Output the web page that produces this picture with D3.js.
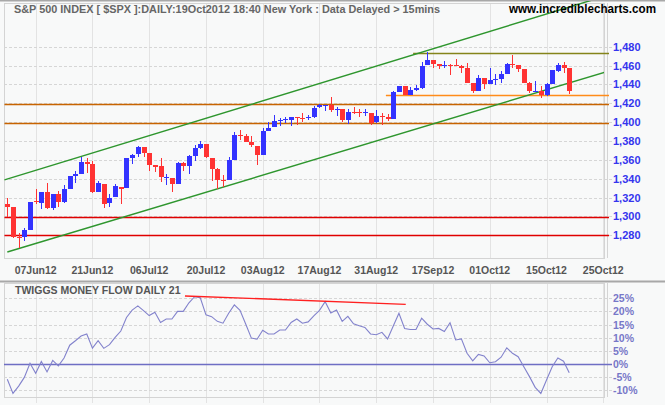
<!DOCTYPE html>
<html><head><meta charset="utf-8">
<script src="https://cdn.jsdelivr.net/npm/d3@7"></script>
<style>html,body{margin:0;padding:0;background:#f8f9f9;} svg{display:block;font-family:"Liberation Sans",Arial,sans-serif;}</style>
</head><body><svg id="c" width="665" height="405"></svg>
<script>
// ---------- DATA ----------
const dates = ["2012-05-31","2012-06-01","2012-06-04","2012-06-05","2012-06-06","2012-06-07","2012-06-08","2012-06-11","2012-06-12","2012-06-13",
"2012-06-14","2012-06-15","2012-06-18","2012-06-19","2012-06-20","2012-06-21","2012-06-22","2012-06-25","2012-06-26","2012-06-27",
"2012-06-28","2012-06-29","2012-07-02","2012-07-03","2012-07-05","2012-07-06","2012-07-09","2012-07-10","2012-07-11","2012-07-12",
"2012-07-13","2012-07-16","2012-07-17","2012-07-18","2012-07-19","2012-07-20","2012-07-23","2012-07-24","2012-07-25","2012-07-26",
"2012-07-27","2012-07-30","2012-07-31","2012-08-01","2012-08-02","2012-08-03","2012-08-06","2012-08-07","2012-08-08","2012-08-09",
"2012-08-10","2012-08-13","2012-08-14","2012-08-15","2012-08-16","2012-08-17","2012-08-20","2012-08-21","2012-08-22","2012-08-23",
"2012-08-24","2012-08-27","2012-08-28","2012-08-29","2012-08-30","2012-08-31","2012-09-04","2012-09-05","2012-09-06","2012-09-07",
"2012-09-10","2012-09-11","2012-09-12","2012-09-13","2012-09-14","2012-09-17","2012-09-18","2012-09-19","2012-09-20","2012-09-21",
"2012-09-24","2012-09-25","2012-09-26","2012-09-27","2012-09-28","2012-10-01","2012-10-02","2012-10-03","2012-10-04","2012-10-05",
"2012-10-08","2012-10-09","2012-10-10","2012-10-11","2012-10-12","2012-10-15","2012-10-16","2012-10-17","2012-10-18","2012-10-19"];

const open = [1313.09,1309.87,1278.29,1277.82,1285.61,1316.15,1314.61,1325.72,1309.40,1324.02,
1314.88,1329.19,1342.42,1344.83,1358.04,1355.43,1325.92,1334.90,1314.09,1320.71,
1331.52,1330.12,1362.33,1365.75,1373.72,1367.09,1354.66,1352.96,1341.40,1341.29,
1334.81,1356.50,1353.68,1363.58,1373.01,1376.51,1362.34,1350.52,1338.35,1338.17,
1360.05,1385.94,1385.27,1379.32,1375.13,1365.45,1391.04,1394.46,1401.23,1402.26,
1402.58,1405.87,1404.36,1403.89,1405.57,1415.84,1417.85,1418.13,1413.09,1413.49,
1401.99,1411.13,1410.44,1409.32,1410.08,1400.07,1406.54,1404.94,1403.74,1432.12,
1437.92,1429.13,1433.56,1436.56,1460.07,1465.42,1461.19,1459.50,1461.05,1460.34,
1459.76,1456.94,1441.60,1433.36,1447.13,1440.90,1444.99,1446.05,1451.08,1461.40,
1460.93,1455.90,1441.48,1432.82,1432.84,1428.75,1440.31,1454.22,1460.94,1457.34];

const high = [1319.74,1309.87,1282.55,1287.62,1315.13,1329.05,1325.81,1335.52,1324.31,1327.28,
1333.68,1343.32,1348.22,1363.46,1361.57,1358.27,1337.82,1334.90,1324.24,1334.40,
1331.52,1362.17,1366.35,1374.81,1373.85,1367.09,1354.87,1361.54,1345.00,1341.29,
1357.70,1357.26,1365.36,1375.26,1380.39,1376.51,1362.34,1351.53,1343.98,1363.13,
1389.19,1391.74,1387.16,1385.03,1375.13,1394.16,1399.63,1407.14,1404.14,1405.95,
1405.98,1405.87,1410.03,1407.73,1417.44,1418.71,1418.13,1426.68,1416.12,1413.49,
1413.46,1416.17,1413.63,1413.95,1410.08,1413.09,1409.31,1408.81,1432.81,1437.92,
1438.74,1437.76,1439.15,1463.76,1474.51,1465.63,1461.47,1465.15,1461.23,1467.07,
1460.72,1463.24,1441.60,1450.20,1447.13,1457.14,1451.52,1454.30,1463.14,1470.96,
1460.93,1455.90,1442.52,1443.90,1438.43,1441.31,1455.51,1462.20,1464.02,1457.34];

const low = [1298.90,1277.25,1266.74,1274.16,1285.61,1312.68,1307.77,1307.73,1306.62,1310.51,
1314.14,1329.19,1335.87,1344.83,1346.45,1324.41,1325.92,1309.27,1310.30,1320.71,
1313.29,1330.12,1355.70,1363.53,1363.02,1348.03,1346.65,1336.27,1333.25,1325.41,
1334.81,1348.51,1345.07,1358.96,1371.21,1362.19,1337.56,1329.24,1331.50,1338.17,
1360.05,1381.37,1379.17,1373.35,1354.65,1365.45,1391.04,1394.46,1396.13,1398.80,
1395.62,1397.32,1400.60,1401.83,1404.15,1414.67,1412.12,1410.86,1406.78,1400.50,
1398.04,1409.11,1405.59,1406.57,1397.01,1398.96,1396.56,1401.25,1403.74,1431.45,
1428.98,1429.13,1432.99,1435.34,1460.07,1457.55,1456.13,1457.88,1449.98,1459.51,
1452.06,1441.59,1430.53,1433.36,1435.60,1440.90,1439.01,1441.99,1451.08,1456.89,
1453.10,1441.18,1430.64,1432.82,1425.53,1427.24,1440.31,1453.35,1452.63,1429.85];

const close = [1310.33,1278.04,1278.18,1285.50,1315.13,1314.99,1325.66,1308.93,1324.18,1314.88,
1329.10,1342.84,1344.78,1357.98,1355.69,1325.51,1335.02,1313.72,1319.99,1331.85,
1329.04,1362.16,1365.51,1374.02,1367.58,1354.68,1352.46,1341.47,1341.45,1334.76,
1356.78,1353.64,1363.67,1372.78,1376.51,1362.66,1350.52,1338.31,1337.89,1360.02,
1385.97,1385.30,1379.32,1375.32,1365.00,1390.99,1394.23,1401.35,1402.22,1402.80,
1405.87,1404.11,1403.93,1405.53,1415.51,1418.16,1418.13,1413.17,1413.49,1402.08,
1411.13,1410.44,1409.30,1410.49,1399.48,1406.58,1404.94,1403.44,1432.12,1437.92,
1429.08,1433.56,1436.56,1459.99,1465.77,1461.19,1459.32,1461.05,1460.26,1460.15,
1456.89,1441.59,1433.32,1447.15,1440.67,1444.49,1445.75,1450.99,1461.40,1460.93,
1455.88,1441.48,1432.56,1432.84,1428.59,1440.13,1454.92,1460.91,1457.34,1433.19];

const moneyFlow = [-5.9,-11.3,-8.5,-5.2,0.2,-3.6,0.9,-3.1,1.3,-0.8,
2.2,7.1,8.8,10.6,11.4,6.0,8.8,5.9,7.3,10.1,
12.5,17.7,20.5,22.1,20.3,18.4,19.7,15.8,17.1,17.1,
20.0,20.0,23.3,25.6,25.2,18.7,18.0,16.2,15.5,19.3,
22.5,20.4,15.2,9.8,9.4,12.8,11.4,11.4,12.9,12.9,
15.8,17.1,15.5,16.0,18.3,20.4,23.7,19.4,20.5,16.2,
18.1,15.3,14.5,13.9,11.4,11.1,12.0,9.5,14.4,19.3,
13.5,13.1,13.1,17.4,15.1,13.3,13.5,12.3,15.7,9.1,
9.5,4.0,1.1,3.6,3.0,0.4,0.8,2.5,6.1,4.0,
2.7,-1.1,-4.9,-9.0,-11.3,-6.2,-1.1,2.2,1.0,-3.4];

const dateTickLabels = ["07Jun12","21Jun12","06Jul12","20Jul12","03Aug12","17Aug12","31Aug12","17Sep12","01Oct12","15Oct12","25Oct12"];
const dateTickIndex = [5,15,25,35,45,55,65,75,85,95,105];
const priceTicks = [1280,1300,1320,1340,1360,1380,1400,1420,1440,1460,1480];
const pctTicks = [-10,-5,0,5,10,15,20,25];

// horizontal support/resistance levels: price and start index
const levelPrices = [1473.3, 1428.6, 1419.5, 1399.5, 1299.2, 1280];
const levelStart  = [71.5, 66.7, -0.5, -0.5, -0.5, -0.5];
// trend channel endpoints: [index, price]
const upperChannel = [[-0.5, 1338.8], [105.5, 1534.0]];
const lowerChannel = [[0, 1262.3], [105.5, 1453.4]];
// money flow divergence line: [index, percent]
const mfTrend = [[31.3, 25.9], [70.2, 22.7]];

// ---------- STYLE / LAYOUT ----------
const levelColors = ["#84841a", "#ff8c1a", "#c86400", "#c86400", "#e00000", "#e00000"];
const UP = "#3333ff", DOWN = "#ff3333";
const L = 4, R = 604, AX = 607;
const T1 = 3, B1 = 258, T2 = 283, B2 = 397;

const svg = d3.select("#c");
svg.append("rect").attr("width", 665).attr("height", 405).attr("fill", "#f8f9f9");

const x = d3.scaleLinear().domain([0, 100]).range([7.3, 7.3 + 567.6]);
const y = d3.scaleLinear().domain([1280, 1480]).range([235.3, 46.7]);
const ym = d3.scaleLinear().domain([-10, 25]).range([390, 298.3]);

const defs = svg.append("defs");
defs.append("clipPath").attr("id", "clipTop").append("rect").attr("x", L).attr("y", 1).attr("width", R - L).attr("height", B1 - 1);
defs.append("clipPath").attr("id", "clipBot").append("rect").attr("x", L).attr("y", T2).attr("width", R - L).attr("height", B2 - T2);

// separators
svg.append("line").attr("x1", 0).attr("x2", 665).attr("y1", 0.5).attr("y2", 0.5).attr("stroke", "#a8a8a8").attr("stroke-width", 2);
svg.append("line").attr("x1", 0).attr("x2", 665).attr("y1", 281.5).attr("y2", 281.5).attr("stroke", "#a8a8a8").attr("stroke-width", 2);

// ---------- TOP PANEL ----------
const gTop = svg.append("g");
gTop.selectAll(".vg").data(dateTickIndex).enter().append("line")
  .attr("x1", d => Math.round(x(d)) + 0.5).attr("x2", d => Math.round(x(d)) + 0.5)
  .attr("y1", T1).attr("y2", B1).attr("stroke", "#e3e3e3");
gTop.selectAll(".hg").data(priceTicks).enter().append("line")
  .attr("x1", L).attr("x2", AX + 6).attr("y1", d => Math.round(y(d)) + 0.5).attr("y2", d => Math.round(y(d)) + 0.5)
  .attr("stroke", "#d6d6d6").attr("stroke-dasharray", "3,2");
gTop.append("rect").attr("x", L + 0.5).attr("y", T1 + 0.5).attr("width", R - L).attr("height", B1 - T1)
  .attr("fill", "none").attr("stroke", "#d4d4d4");
gTop.append("line").attr("x1", AX + 0.5).attr("x2", AX + 0.5).attr("y1", T1).attr("y2", B1).attr("stroke", "#d4d4d4");

// levels
gTop.selectAll(".lvl").data(levelPrices).enter().append("line")
  .attr("x1", (d, i) => Math.max(L, x(levelStart[i]))).attr("x2", AX + 2)
  .attr("y1", d => Math.round(y(d)) + 0.5).attr("y2", d => Math.round(y(d)) + 0.5)
  .attr("stroke", (d, i) => levelColors[i]).attr("stroke-width", 1.3);

// channel lines
const chan = d3.line().x(d => x(d[0])).y(d => y(d[1]));
const cg = gTop.append("g").attr("clip-path", "url(#clipTop)");
[upperChannel, lowerChannel].forEach(c => {
  cg.append("path").attr("d", chan(c)).attr("fill", "none").attr("stroke", "#2e962e").attr("stroke-width", 1.4);
});

// candles
const idx = d3.range(close.length);
const cdl = gTop.append("g").attr("shape-rendering", "crispEdges");
cdl.selectAll(".wick").data(idx).enter().append("rect")
  .attr("x", i => Math.round(x(i)))
  .attr("y", i => Math.round(y(high[i])))
  .attr("width", 1)
  .attr("height", i => Math.max(1, Math.round(y(low[i])) - Math.round(y(high[i]))))
  .attr("fill", i => close[i] >= open[i] ? UP : DOWN);
cdl.selectAll(".body").data(idx).enter().append("rect")
  .attr("x", i => Math.round(x(i)) - 2)
  .attr("y", i => Math.round(y(Math.max(open[i], close[i]))))
  .attr("width", 5)
  .attr("height", i => Math.max(1, Math.round(y(Math.min(open[i], close[i]))) - Math.round(y(Math.max(open[i], close[i])))))
  .attr("fill", i => close[i] >= open[i] ? UP : DOWN);

// price labels
gTop.selectAll(".pl").data(priceTicks).enter().append("text")
  .attr("x", 613).attr("y", d => y(d) + 4)
  .attr("font-size", 11).attr("font-weight", "bold").attr("fill", "#3535ee")
  .text(d => d3.format(",")(d));

// title
svg.append("text").attr("x", 14).attr("y", 13).attr("font-size", 11).attr("font-weight", "bold")
  .attr("fill", "#666").attr("textLength", 426).attr("lengthAdjust", "spacingAndGlyphs")
  .text("S&P 500 INDEX [ $SPX ]:DAILY:19Oct2012 18:40 New York : Data Delayed > 15mins");
svg.append("text").attr("x", 509).attr("y", 13).attr("font-size", 12).attr("font-weight", "bold")
  .attr("fill", "#000").attr("textLength", 147).attr("lengthAdjust", "spacingAndGlyphs")
  .text("www.incrediblecharts.com");

// date labels
svg.selectAll(".dl").data(dateTickIndex).enter().append("text")
  .attr("x", d => x(d)).attr("y", 274).attr("text-anchor", "middle")
  .attr("font-size", 10.5).attr("font-weight", "bold").attr("fill", "#555")
  .text((d, i) => dateTickLabels[i]);

// ---------- BOTTOM PANEL ----------
const gBot = svg.append("g");
gBot.selectAll(".vg2").data(dateTickIndex).enter().append("line")
  .attr("x1", d => Math.round(x(d)) + 0.5).attr("x2", d => Math.round(x(d)) + 0.5)
  .attr("y1", T2).attr("y2", B2 + 6).attr("stroke", "#e3e3e3");
gBot.selectAll(".hg2").data(pctTicks.filter(d => d !== 0)).enter().append("line")
  .attr("x1", L).attr("x2", AX + 6).attr("y1", d => Math.round(ym(d)) + 0.5).attr("y2", d => Math.round(ym(d)) + 0.5)
  .attr("stroke", "#d6d6d6").attr("stroke-dasharray", "3,2");
gBot.append("rect").attr("x", L + 0.5).attr("y", T2 + 0.5).attr("width", R - L).attr("height", B2 - T2)
  .attr("fill", "none").attr("stroke", "#d4d4d4");
gBot.append("line").attr("x1", AX + 0.5).attr("x2", AX + 0.5).attr("y1", T2).attr("y2", B2).attr("stroke", "#d4d4d4");
gBot.append("line").attr("x1", L).attr("x2", AX + 5).attr("y1", Math.round(ym(0)) + 0.5).attr("y2", Math.round(ym(0)) + 0.5)
  .attr("stroke", "#6e6ec4").attr("stroke-width", 1.3);

const bg = gBot.append("g").attr("clip-path", "url(#clipBot)");
bg.append("path").datum(moneyFlow)
  .attr("d", d3.line().x((d, i) => x(i)).y(d => ym(d)))
  .attr("fill", "none").attr("stroke", "#8282cc").attr("stroke-width", 1.1);
bg.append("path").attr("d", d3.line().x(d => x(d[0])).y(d => ym(d[1]))(mfTrend))
  .attr("fill", "none").attr("stroke", "#ff2020").attr("stroke-width", 1.4);

gBot.selectAll(".ml").data(pctTicks).enter().append("text")
  .attr("x", 613).attr("y", d => ym(d) + 4)
  .attr("font-size", 10.5).attr("font-weight", "bold").attr("fill", "#7777c8")
  .text(d => d + "%");

svg.append("text").attr("x", 15).attr("y", 294).attr("font-size", 10.5).attr("font-weight", "bold")
  .attr("fill", "#555").text("TWIGGS MONEY FLOW DAILY 21");
</script></body></html>
